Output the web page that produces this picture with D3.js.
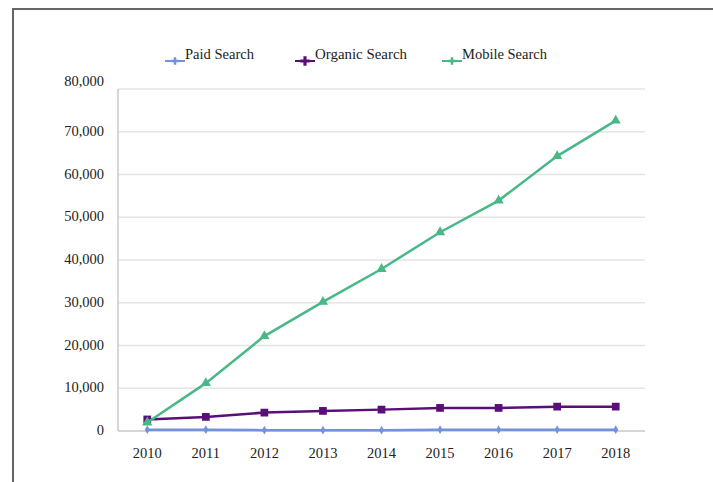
<!DOCTYPE html>
<html lang="en">
	<head>
		<meta charset="utf-8">
		<title>Search traffic</title>
		<script type="text/javascript" src="https://d3js.org/d3.v7.min.js"></script>
		<style>
			body { margin: 0; background: #fff; }
			svg text { font-family: "Liberation Serif", "DejaVu Serif", serif; fill: #222; }
		</style>
	</head>
	<body>
		<svg id="chart"></svg>
		<script>
			var years = ["2010","2011","2012","2013","2014","2015","2016","2017","2018"];
			var paid = [300,300,200,200,200,300,300,300,300];
			var organic = [2700,3300,4300,4700,5000,5400,5400,5700,5700];
			var mobile = [2000,11200,22200,30200,37900,46500,53900,64300,72600];
			var yTicks = [0,10000,20000,30000,40000,50000,60000,70000,80000];
			var seriesNames = ["Paid Search","Organic Search","Mobile Search"];

			var width = 713;
			var height = 482;
			var border = {left:118, right:68, top:89, bottom:51};

			var svg = d3.select("#chart")
				.attr("width", width)
				.attr("height", height);

			// grey frame, top and left only
			svg.append("line").attr("x1",12).attr("x2",width).attr("y1",9).attr("y2",9)
				.attr("stroke","#666").attr("stroke-width",2);
			svg.append("line").attr("x1",13).attr("x2",13).attr("y1",8).attr("y2",height)
				.attr("stroke","#666").attr("stroke-width",2);

			var xScale = d3.scaleBand()
				.domain(years)
				.range([border.left, width-border.right]);

			var yScale = d3.scaleLinear()
				.domain([0,80000])
				.range([height-border.bottom, border.top]);

			// gridlines
			svg.append("g")
				.selectAll("line")
				.data(yTicks.slice(1))
				.enter()
				.append("line")
				.attr("x1",border.left)
				.attr("x2",width-border.right)
				.attr("y1",d=>yScale(d))
				.attr("y2",d=>yScale(d))
				.attr("stroke","#e4e4e4")
				.attr("stroke-width",1.5);

			// axis lines
			svg.append("line")
				.attr("x1",border.left).attr("x2",border.left)
				.attr("y1",yScale(80000)).attr("y2",yScale(0))
				.attr("stroke","#c8c8c8").attr("stroke-width",1.5);
			svg.append("line")
				.attr("x1",border.left).attr("x2",width-border.right)
				.attr("y1",yScale(0)).attr("y2",yScale(0))
				.attr("stroke","#c8c8c8").attr("stroke-width",1.5);

			// y labels
			svg.append("g")
				.selectAll("text")
				.data(yTicks)
				.enter()
				.append("text")
				.attr("x",104)
				.attr("y",d=>yScale(d)-(d==80000?8:1))
				.attr("dy","0.35em")
				.attr("text-anchor","end")
				.attr("font-size","14.5px")
				.text(d=>d3.format(",")(d));

			// x labels
			svg.append("g")
				.selectAll("text")
				.data(years)
				.enter()
				.append("text")
				.attr("x",d=>xScale(d)+xScale.bandwidth()/2)
				.attr("y",458)
				.attr("text-anchor","middle")
				.attr("font-size","14.5px")
				.text(d=>d);

			var series = [
				{name:seriesNames[0], values:paid, color:"#7391df", marker:d3.symbolDiamond, size:22},
				{name:seriesNames[1], values:organic, color:"#5a0f78", marker:d3.symbolSquare, size:60},
				{name:seriesNames[2], values:mobile, color:"#49b887", marker:d3.symbolTriangle, size:45}
			];

			var line = d3.line()
				.x((d,i)=>xScale(years[i])+xScale.bandwidth()/2)
				.y(d=>yScale(d));

			series.forEach(function(s){
				svg.append("path")
					.datum(s.values)
					.attr("d",line)
					.attr("fill","none")
					.attr("stroke",s.color)
					.attr("stroke-width",2.5);

				svg.append("g")
					.selectAll("path")
					.data(s.values)
					.enter()
					.append("path")
					.attr("transform",(d,i)=>"translate("+(xScale(years[i])+xScale.bandwidth()/2)+","+yScale(d)+")")
					.attr("d",d3.symbol().type(s.marker).size(s.size))
					.attr("fill",s.color);
			});

			// legend
			var legendX = [165,295,442];
			var legend = svg.append("g")
				.selectAll("g")
				.data(series)
				.enter()
				.append("g")
				.attr("transform",(d,i)=>"translate("+legendX[i]+",0)");

			legend.append("line")
				.attr("x1",0).attr("x2",20)
				.attr("y1",61).attr("y2",61)
				.attr("stroke",d=>d.color)
				.attr("stroke-width",2);

			legend.append("path")
				.attr("transform","translate(10,61)")
				.attr("d",d=>d3.symbol().type(d3.symbolCross).size(d.name=="Organic Search"?50:30)())
				.attr("fill",d=>d.color);

			legend.append("text")
				.attr("x",20)
				.attr("y",59)
				.attr("font-size","15px")
				.attr("textLength",d=>d.name=="Paid Search"?69:d.name=="Organic Search"?92:85)
				.attr("lengthAdjust","spacingAndGlyphs")
				.text(d=>d.name);
		</script>
	</body>
</html>
